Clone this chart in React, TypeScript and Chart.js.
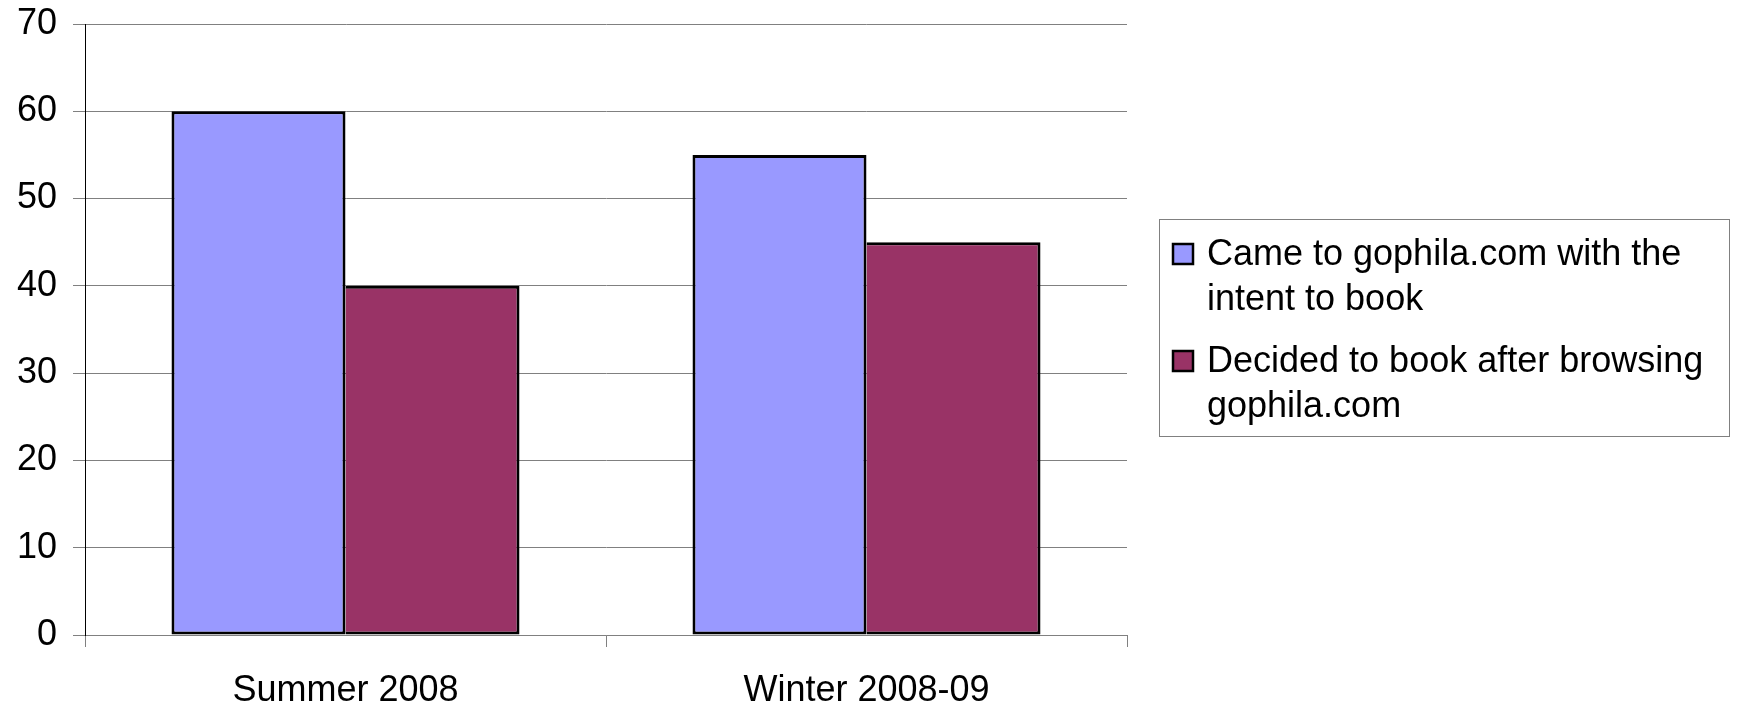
import React, { useEffect, useRef } from 'react';
import { Chart, registerables } from 'chart.js';

Chart.register(...registerables);

const categories = ['Summer 2008', 'Winter 2008-09'];
const seriesLabels = [
  'Came to gophila.com with the intent to book',
  'Decided to book after browsing gophila.com',
];
const cameWithIntent = [60, 55];
const decidedAfterBrowsing = [40, 45];
const seriesColors = ['#9999FF', '#993366'];
const yMin = 0;
const yMax = 70;
const yStep = 10;

const FONT = '"Liberation Sans", Arial, sans-serif';

function wrapText(ctx: CanvasRenderingContext2D, text: string, maxWidth: number): string[] {
  const words = text.split(' ');
  const lines: string[] = [];
  let cur = '';
  for (const w of words) {
    const test = cur ? cur + ' ' + w : w;
    if (ctx.measureText(test).width > maxWidth && cur) {
      lines.push(cur);
      cur = w;
    } else {
      cur = test;
    }
  }
  if (cur) lines.push(cur);
  return lines;
}

const boxLegendPlugin = {
  id: 'boxLegend',
  afterDraw(chart: any) {
    const ctx: CanvasRenderingContext2D = chart.ctx;
    const area = chart.chartArea;
    const boxX = area.right + 32;
    const boxY = 219;
    const boxW = 570;
    const boxH = 217;
    ctx.save();
    ctx.strokeStyle = '#808080';
    ctx.lineWidth = 1;
    ctx.strokeRect(boxX + 0.5, boxY + 0.5, boxW, boxH);
    ctx.font = `36px ${FONT}`;
    ctx.textBaseline = 'alphabetic';
    ctx.textAlign = 'left';
    const textX = boxX + 48;
    const markerX = boxX + 14;
    let baseline = boxY + 46;
    chart.data.datasets.forEach((ds: any) => {
      const lines = wrapText(ctx, ds.label, boxX + boxW - textX - 8);
      ctx.fillStyle = ds.backgroundColor;
      ctx.fillRect(markerX, baseline - 21, 20, 20);
      ctx.strokeStyle = '#000';
      ctx.lineWidth = 2.5;
      ctx.strokeRect(markerX, baseline - 21, 20, 20);
      ctx.fillStyle = '#000';
      lines.forEach((l, j) => ctx.fillText(l, textX, baseline + j * 45));
      baseline += (lines.length - 1) * 45 + 62;
    });
    ctx.restore();
  },
};

export default function App() {
  const canvasRef = useRef<HTMLCanvasElement | null>(null);

  useEffect(() => {
    if (!canvasRef.current) return;
    const common = {
      borderColor: '#000000',
      borderSkipped: false as const,
      categoryPercentage: 0.668,
      barPercentage: 1.0,
    };
    const chart = new Chart(canvasRef.current, {
      type: 'bar',
      data: {
        labels: categories,
        datasets: [
          {
            label: seriesLabels[0],
            data: cameWithIntent,
            backgroundColor: seriesColors[0],
            borderWidth: { left: 3, top: 3, right: 3, bottom: 3 },
            ...common,
          },
          {
            label: seriesLabels[1],
            data: decidedAfterBrowsing,
            backgroundColor: seriesColors[1],
            borderWidth: { left: 0, top: 3, right: 3, bottom: 3 },
            ...common,
          },
        ],
      },
      options: {
        responsive: false,
        animation: false,
        layout: { padding: { left: 0, top: 24, right: 610, bottom: 0 } },
        plugins: {
          legend: { display: false },
          tooltip: { enabled: false },
        },
        scales: {
          x: {
            offset: true,
            grid: {
              offset: true,
              drawOnChartArea: false,
              drawTicks: true,
              tickLength: 12,
              color: '#808080',
            },
            border: { display: true, color: '#808080', width: 1 },
            ticks: {
              color: '#000',
              font: { family: FONT, size: 36 },
              padding: 22,
              maxRotation: 0,
            },
            afterFit: (scale: any) => {
              scale.height = 71;
              scale.paddingLeft = 0;
              scale.paddingRight = 0;
            },
          },
          y: {
            min: yMin,
            max: yMax,
            ticks: {
              stepSize: yStep,
              color: '#000',
              font: { family: FONT, size: 36 },
              padding: 16,
            },
            grid: {
              color: '#808080',
              drawTicks: true,
              tickLength: 12,
            },
            border: { display: true, color: '#000000', width: 1 },
            afterFit: (scale: any) => {
              scale.width = 85;
              scale.paddingTop = 0;
              scale.paddingBottom = 0;
            },
          },
        },
      },
      plugins: [boxLegendPlugin],
    });
    return () => chart.destroy();
  }, []);

  return (
    <div style={{ position: 'fixed', left: 0, top: 0, width: 1737, height: 706, background: '#fff' }}>
      <canvas ref={canvasRef} width={1737} height={706} style={{ width: 1737, height: 706, display: 'block' }} />
    </div>
  );
}
